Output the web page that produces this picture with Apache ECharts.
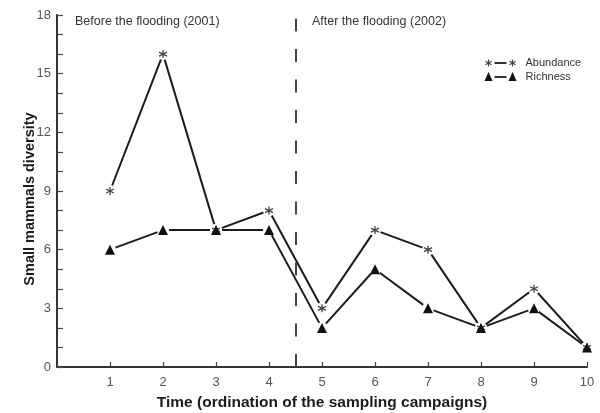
<!DOCTYPE html>
<html>
<head>
<meta charset="utf-8">
<script src="https://cdn.jsdelivr.net/npm/echarts@6/dist/echarts.min.js"></script>
<style>
  html, body { margin: 0; padding: 0; background: #fff; }
  #chart { width: 600px; height: 413px; }
</style>
</head>
<body>
<div id="chart"></div>
<script>
// Sampling campaigns (x) and diversity measures (y)
const campaigns = [1, 2, 3, 4, 5, 6, 7, 8, 9, 10];
const abundance = [9, 16, 7, 8, 3, 7, 6, 2, 4, 1];
const richness  = [6, 7, 7, 7, 2, 5, 3, 2, 3, 1];
const yTicks = [0, 3, 6, 9, 12, 15, 18];
const floodingBoundary = 4.5;
const periodLabels = ['Before the flooding (2001)', 'After the flooding (2002)'];
const seriesNames = ['Abundance', 'Richness'];

const FONT = '"Liberation Sans", Arial, sans-serif';
const INK = '#1c1c1c';
const ASTERISK = 'path://M0,-5L0,5M-4.33,-2.5L4.33,2.5M-4.33,2.5L4.33,-2.5';

const pairs = (ys) => campaigns.map((x, i) => [x, ys[i]]);

const lineSeries = (name, ys) => ({
  name, type: 'line', data: pairs(ys), showSymbol: false, symbol: 'none',
  lineStyle: { color: INK, width: 2 }, z: 2, silent: true
});
// white disc under each marker so the connecting lines stop short of it
const haloSeries = (ys) => ({
  type: 'scatter', data: pairs(ys), symbol: 'circle', symbolSize: 12,
  itemStyle: { color: '#fff', opacity: 1 }, z: 3, silent: true
});

// small asterisk for the legend, drawn from three strokes
const legendAsterisk = (cx, cy, r) => [0, 60, 120].map((deg) => {
  const a = deg * Math.PI / 180;
  const dx = Math.sin(a) * r, dy = Math.cos(a) * r;
  return { type: 'line', shape: { x1: cx - dx, y1: cy - dy, x2: cx + dx, y2: cy + dy },
           style: { stroke: '#444', lineWidth: 1.1 } };
});

const chart = echarts.init(document.getElementById('chart'), null, { renderer: 'canvas' });
chart.setOption({
  animation: false,
  backgroundColor: '#fff',
  grid: { left: 57, right: 13, top: 15, bottom: 46, containLabel: false, outerBoundsMode: 'none' },
  xAxis: {
    type: 'value', min: 0, max: 10, interval: 1,
    name: 'Time (ordination of the sampling campaigns)',
    nameLocation: 'middle', nameGap: 28,
    nameTextStyle: { fontFamily: FONT, fontSize: 15.5, fontWeight: 'bold', color: INK },
    axisLine: { show: true, lineStyle: { color: '#333', width: 2 } },
    axisTick: { show: true, inside: true, length: 5, lineStyle: { color: '#444', width: 1.2 } },
    axisLabel: {
      fontFamily: FONT, fontSize: 13, color: '#555', margin: 9,
      formatter: (v) => (v === 0 ? '' : String(v))
    },
    splitLine: { show: false }
  },
  yAxis: {
    type: 'value', min: yTicks[0], max: yTicks[yTicks.length - 1], interval: 3,
    name: 'Small mammals diversity',
    nameLocation: 'middle', nameGap: 20, nameRotate: 90, nameMoveOverlap: false,
    nameTextStyle: { fontFamily: FONT, fontSize: 14.5, fontWeight: 'bold', color: INK, padding: [0, 16, 0, 0] },
    axisLine: { show: true, lineStyle: { color: '#333', width: 2 } },
    axisTick: { show: true, inside: true, length: 6, lineStyle: { color: '#444', width: 1.2 } },
    minorTick: { show: true, splitNumber: 3, length: 6, lineStyle: { color: '#444', width: 1.2 } },
    axisLabel: { fontFamily: FONT, fontSize: 13, color: '#555', margin: 6 },
    splitLine: { show: false }
  },
  series: [
    Object.assign(lineSeries(seriesNames[0], abundance), {
      markLine: {
        silent: true, symbol: 'none', label: { show: false },
        lineStyle: { color: '#444', width: 2, type: [13, 17.5] },
        data: [{ xAxis: floodingBoundary }]
      }
    }),
    lineSeries(seriesNames[1], richness),
    haloSeries(abundance),
    haloSeries(richness),
    {
      type: 'scatter', data: pairs(abundance), symbol: ASTERISK, symbolSize: 8,
      itemStyle: { color: 'none', borderColor: '#444', borderWidth: 1.3, opacity: 1 }, z: 4, silent: true
    },
    {
      type: 'scatter', data: pairs(richness), symbol: 'triangle', symbolSize: 10,
      itemStyle: { color: '#111', opacity: 1 }, z: 4, silent: true
    }
  ],
  graphic: [
    { type: 'text', left: 75, top: 15, silent: true,
      style: { text: periodLabels[0], fontFamily: FONT, fontSize: 12.5, fill: '#333' } },
    { type: 'text', left: 312, top: 15, silent: true,
      style: { text: periodLabels[1], fontFamily: FONT, fontSize: 12.5, fill: '#333' } },
    // legend: symbol – line – symbol, then the series name
    { type: 'group', left: 483, top: 57, silent: true, children: [].concat(
      legendAsterisk(4, 5, 3.5),
      [{ type: 'line', shape: { x1: 10, y1: 5, x2: 22, y2: 5 }, style: { stroke: INK, lineWidth: 1.8 } }],
      legendAsterisk(28, 5, 3.5),
      [
        { type: 'text', x: 41, y: -1, style: { text: seriesNames[0], fontFamily: FONT, fontSize: 11, fill: '#333' } },
        { type: 'polygon', shape: { points: [[4, 14], [0, 23], [8, 23]] }, style: { fill: '#111' } },
        { type: 'line', shape: { x1: 10, y1: 19, x2: 22, y2: 19 }, style: { stroke: INK, lineWidth: 1.8 } },
        { type: 'polygon', shape: { points: [[28, 14], [24, 23], [32, 23]] }, style: { fill: '#111' } },
        { type: 'text', x: 41, y: 13, style: { text: seriesNames[1], fontFamily: FONT, fontSize: 11, fill: '#333' } }
      ]
    )}
  ]
});
</script>
</body>
</html>
